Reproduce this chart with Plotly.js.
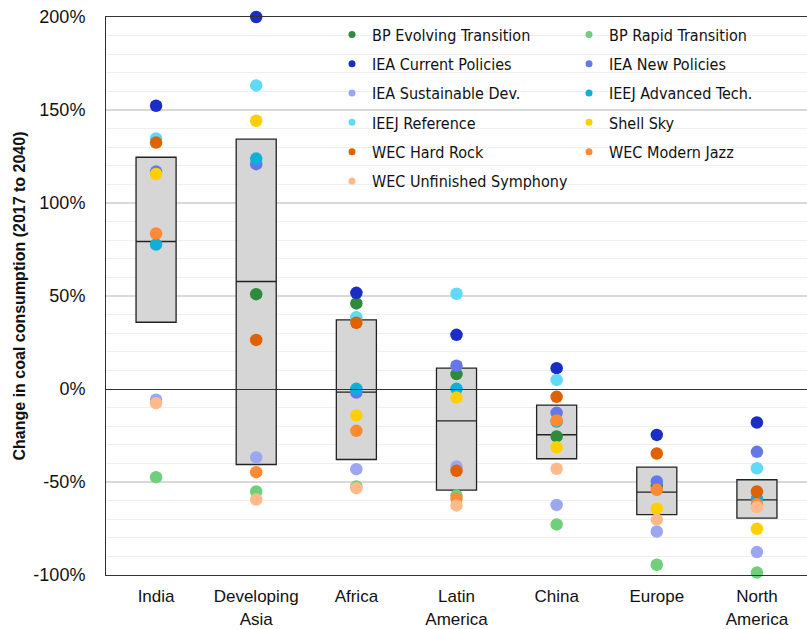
<!DOCTYPE html>
<html>
<head>
<meta charset="utf-8">
<script src="https://cdn.plot.ly/plotly-3.0.1.min.js"></script>
<style>
  body { margin: 0; background: #fff; }
  #chart { width: 807px; height: 629px; }
</style>
</head>
<body>
<div id="chart"></div>
<script>
var categories = ['India', 'Developing<br>Asia', 'Africa', 'Latin<br>America', 'China', 'Europe', 'North<br>America'];

// change in coal consumption 2017 -> 2040, percent
var bpEvolving    = [null, 51, 46, 8, -25.5, -52, null];
var bpRapid       = [-47.4, -55.1, -52.4, -57.3, -72.8, -94.5, -98.7];
var ieaCurrent    = [152.3, 200, 51.7, 29.1, 11.2, -24.7, -18];
var ieaNew        = [116.9, 120.9, -1.9, 12.5, -12.8, -49.7, -33.8];
var ieaSustain    = [-5.8, -36.8, -43.1, -41.7, -62.3, -76.6, -87.7];
var ieejAdvanced  = [77.7, 123.9, 0.1, 0.1, -17.5, null, -59];
var ieejReference = [134.7, 163.2, 38.6, 51.2, 4.9, null, -42.6];
var shellSky      = [115.6, 144.2, -14.2, -4.6, -31.3, -64.4, -75.2];
var wecHardRock   = [132.5, 26.4, 35.6, -44, -4.2, -34.7, -55.1];
var wecJazz       = [83.6, -44.7, -22.5, -59, -16.9, -54.2, -62];
var wecSymphony   = [-7.6, -59.4, -53.3, -62.6, -42.9, -70.2, -63.5];

// range boxes
var boxLow  = [35.9, -40.6, -37.9, -54.4, -37.5, -67.5, -69.4];
var boxMid  = [79.3, 57.8, -1.7, -17.1, -24.6, -55.4, -59.6];
var boxHigh = [124.6, 134.3, 37.2, 11.2, -8.7, -42, -48.8];

var yTickVals = [-100, -50, 0, 50, 100, 150, 200];
var yTickText = ['-100%', '-50%', '0%', '50%', '100%', '150%', '200%'];

var scenarios = [
  {name: 'BP Evolving Transition', y: bpEvolving, color: '#2e8b3b'},
  {name: 'BP Rapid Transition', y: bpRapid, color: '#6fcf7b'},
  {name: 'IEA Current Policies', y: ieaCurrent, color: '#1a2dc4'},
  {name: 'IEA New Policies', y: ieaNew, color: '#6677e8'},
  {name: 'IEA Sustainable Dev.', y: ieaSustain, color: '#9ba7f1'},
  {name: 'IEEJ Advanced Tech.', y: ieejAdvanced, color: '#0db0da'},
  {name: 'IEEJ Reference', y: ieejReference, color: '#5fdaf7'},
  {name: 'Shell Sky', y: shellSky, color: '#ffcf00'},
  {name: 'WEC Hard Rock', y: wecHardRock, color: '#df6100'},
  {name: 'WEC Modern Jazz', y: wecJazz, color: '#fe8a34'},
  {name: 'WEC Unfinished Symphony', y: wecSymphony, color: '#ffb98b'}
];

var data = [{
  type: 'box',
  x: categories,
  q1: boxLow,
  median: boxMid,
  q3: boxHigh,
  lowerfence: boxLow,
  upperfence: boxHigh,
  width: 0.4,
  fillcolor: '#d6d6d6',
  line: {color: '#222', width: 1.3},
  hoverinfo: 'skip',
  showlegend: false
}];

scenarios.forEach(function (s) {
  data.push({
    type: 'scatter',
    mode: 'markers',
    x: categories,
    y: s.y,
    name: s.name,
    marker: {color: s.color, size: 12.5},
    cliponaxis: false,
    showlegend: false
  });
});

// smaller dots for the legend, split into two columns
scenarios.forEach(function (s, i) {
  data.push({
    type: 'scatter',
    mode: 'markers',
    x: [null],
    y: [null],
    name: s.name,
    legend: i % 2 === 0 ? 'legend' : 'legend2',
    legendgroup: 'g' + i,
    marker: {color: s.color, size: 7},
    hoverinfo: 'skip'
  });
});

var legendFont = {family: 'Liberation Sans Narrow, DejaVu Sans Condensed, sans-serif', size: 16, color: '#111'};

var layout = {
  width: 807,
  height: 629,
  margin: {l: 106, r: 0, t: 17, b: 54},
  paper_bgcolor: '#fff',
  plot_bgcolor: '#fff',
  font: {family: 'Liberation Sans, Arial, sans-serif', size: 18, color: '#111'},
  showlegend: true,
  legend: {
    x: 0.3224, y: 0.999, xanchor: 'left', yanchor: 'top',
    bgcolor: 'rgba(0,0,0,0)', font: legendFont,
    traceorder: 'grouped', tracegroupgap: 5.5
  },
  legend2: {
    x: 0.6605, y: 0.999, xanchor: 'left', yanchor: 'top',
    bgcolor: 'rgba(0,0,0,0)', font: legendFont,
    traceorder: 'grouped', tracegroupgap: 5.5
  },
  shapes: [{
    type: 'rect', xref: 'paper', yref: 'paper',
    x0: 0.332, x1: 1, y0: 0.67, y1: 1,
    fillcolor: '#fff', line: {width: 0}, layer: 'between'
  }],
  xaxis: {
    type: 'category',
    range: [-0.5, 6.5],
    showgrid: false,
    showline: true,
    mirror: true,
    linecolor: '#333',
    linewidth: 1,
    ticks: '',
    tickfont: {size: 17},
    ticklabelstandoff: 6,
    fixedrange: true
  },
  yaxis: {
    range: [-100, 200],
    tickvals: yTickVals,
    ticktext: yTickText,
    showline: true,
    linecolor: '#333',
    linewidth: 1,
    gridcolor: '#d9d9d9',
    gridwidth: 1.3,
    minor: {dtick: 10, showgrid: true, gridcolor: '#efefef', gridwidth: 1},
    zeroline: true,
    zerolinecolor: '#333',
    zerolinewidth: 1,
    zerolinelayer: 'above traces',
    ticks: '',
    ticklabelstandoff: 16,
    title: {
      text: 'Change in coal consumption (2017 to 2040)',
      font: {family: 'Liberation Sans, Arial, sans-serif', size: 16, color: '#111', weight: 'bold'},
      standoff: 3
    },
    fixedrange: true
  }
};

Plotly.newPlot('chart', data, layout, {displayModeBar: false, staticPlot: true});
</script>
</body>
</html>
